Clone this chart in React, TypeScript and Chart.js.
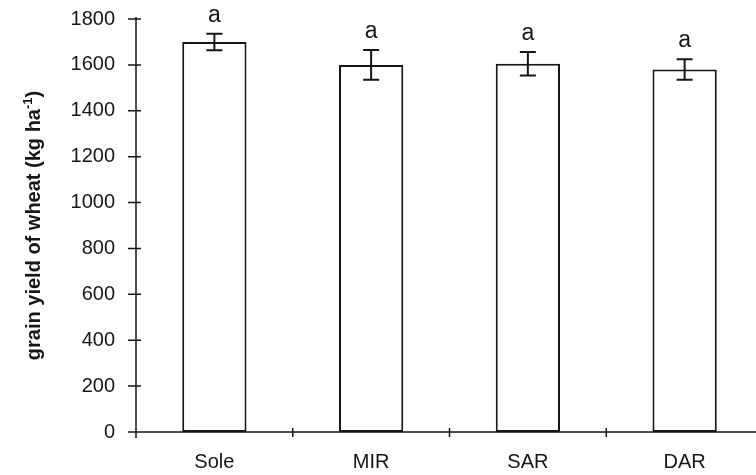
import { useEffect, useRef } from "react";
import { Chart, registerables } from "chart.js";

Chart.register(...registerables);

// Wheat grain yield per cropping treatment
const categories = ["Sole", "MIR", "SAR", "DAR"];
const grainYield = [1700, 1600, 1605, 1580];
const yieldError = [36, 65, 51, 45];
const significance = ["a", "a", "a", "a"];

const yMin = 0;
const yMax = 1800;
const yStep = 200;

const titleMain = "grain yield of wheat (kg ha";
const titleSup = "-1";
const titleEnd = ")";

const FONT = "'Liberation Sans', Arial, Helvetica, sans-serif";
const INK = "#161616";

const decorPlugin = {
  id: "decor",
  afterDatasetsDraw(chart: any) {
    const { ctx, chartArea, scales } = chart;
    const xs = scales.x;
    const ys = scales.y;
    const { left, right, top, bottom } = chartArea;

    ctx.save();
    ctx.strokeStyle = INK;
    ctx.lineCap = "butt";

    // axes
    ctx.lineWidth = 1.5;
    ctx.beginPath();
    ctx.moveTo(left, top - 2);
    ctx.lineTo(left, bottom + 6);
    ctx.moveTo(left - 6, bottom);
    ctx.lineTo(right + 20, bottom);

    // y tick marks crossing the axis
    ys.ticks.forEach((_t: any, i: number) => {
      const py = ys.getPixelForTick(i);
      ctx.moveTo(left - 8, py);
      ctx.lineTo(left + 5, py);
    });

    // x tick marks between categories
    for (let i = 0; i < categories.length - 1; i++) {
      const px = (xs.getPixelForValue(i) + xs.getPixelForValue(i + 1)) / 2;
      ctx.moveTo(px, bottom - 4);
      ctx.lineTo(px, bottom + 5);
    }
    ctx.stroke();

    // error bars and significance letters
    ctx.lineWidth = 2;
    ctx.fillStyle = INK;
    ctx.font = `23px ${FONT}`;
    ctx.textAlign = "center";
    ctx.textBaseline = "alphabetic";
    grainYield.forEach((v, i) => {
      const cx = xs.getPixelForValue(i);
      const yTop = ys.getPixelForValue(v + yieldError[i]);
      const yBot = ys.getPixelForValue(v - yieldError[i]);
      const cap = 8;
      ctx.beginPath();
      ctx.moveTo(cx, yTop);
      ctx.lineTo(cx, yBot);
      ctx.moveTo(cx - cap, yTop);
      ctx.lineTo(cx + cap, yTop);
      ctx.moveTo(cx - cap, yBot);
      ctx.lineTo(cx + cap, yBot);
      ctx.stroke();
      ctx.fillText(significance[i], cx, yTop - 12);
    });

    // rotated y-axis title with superscript
    const cy = (top + bottom) / 2;
    const mainFont = `bold 20px ${FONT}`;
    const supFont = `bold 13px ${FONT}`;
    ctx.font = mainFont;
    const w1 = ctx.measureText(titleMain).width;
    const w3 = ctx.measureText(titleEnd).width;
    ctx.font = supFont;
    const w2 = ctx.measureText(titleSup).width;
    const total = w1 + w2 + w3;

    ctx.translate(40, cy);
    ctx.rotate(-Math.PI / 2);
    ctx.textAlign = "left";
    let x0 = -total / 2;
    ctx.font = mainFont;
    ctx.fillText(titleMain, x0, 0);
    x0 += w1;
    ctx.font = supFont;
    ctx.fillText(titleSup, x0, -8);
    x0 += w2;
    ctx.font = mainFont;
    ctx.fillText(titleEnd, x0, 0);
    ctx.restore();
  },
};

export default function App() {
  const canvasRef = useRef<HTMLCanvasElement | null>(null);

  useEffect(() => {
    if (!canvasRef.current) return;
    const chart = new Chart(canvasRef.current, {
      type: "bar",
      data: {
        labels: categories,
        datasets: [
          {
            data: grainYield,
            backgroundColor: "#ffffff",
            borderColor: INK,
            borderWidth: 2,
            borderSkipped: false,
            barPercentage: 0.41,
            categoryPercentage: 1,
          },
        ],
      },
      options: {
        responsive: false,
        animation: false,
        devicePixelRatio: 1,
        layout: { padding: { left: 0, right: 12, top: 19, bottom: 0 } },
        plugins: {
          legend: { display: false },
          tooltip: { enabled: false },
          title: { display: false },
        },
        scales: {
          x: {
            type: "category",
            offset: true,
            grid: { display: false },
            border: { display: false },
            ticks: {
              color: INK,
              font: { family: FONT, size: 20 },
              padding: 10,
              maxRotation: 0,
              autoSkip: false,
            },
            afterFit: (s: any) => {
              s.height = 43;
              s.paddingLeft = 0;
              s.paddingRight = 0;
            },
          },
          y: {
            min: yMin,
            max: yMax,
            grid: { display: false },
            border: { display: false },
            ticks: {
              stepSize: yStep,
              color: INK,
              font: { family: FONT, size: 20 },
              padding: 13,
              callback: (v: any) => String(v),
            },
            afterFit: (s: any) => {
              s.width = 136;
              s.paddingTop = 0;
              s.paddingBottom = 0;
            },
          },
        },
      },
      plugins: [decorPlugin],
    });
    return () => chart.destroy();
  }, []);

  return (
    <div
      style={{
        position: "fixed",
        left: 0,
        top: 0,
        width: 756,
        height: 475,
        overflow: "hidden",
        background: "#ffffff",
      }}
    >
      <canvas ref={canvasRef} width={775} height={475} style={{ display: "block" }} />
    </div>
  );
}
